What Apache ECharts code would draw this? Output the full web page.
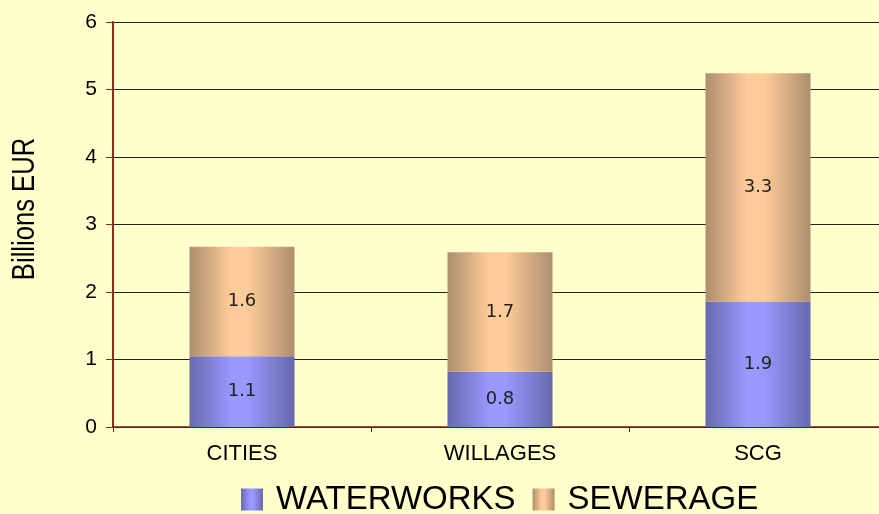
<!DOCTYPE html>
<html>
<head>
<meta charset="utf-8">
<script src="https://cdn.jsdelivr.net/npm/echarts@6/dist/echarts.min.js"></script>
<style>
  html, body { margin: 0; padding: 0; background: #FFFFCC; overflow: hidden; }
  #main { width: 888px; height: 514px; }
</style>
</head>
<body>
<div id="main"></div>
<script>
let categories = ['CITIES', 'WILLAGES', 'SCG'];
let waterworks = [1.05, 0.82, 1.86];
let sewerage = [1.62, 1.77, 3.38];
let waterworksLabels = ['1.1', '0.8', '1.9'];
let sewerageLabels = ['1.6', '1.7', '3.3'];
let yTicks = [0, 1, 2, 3, 4, 5, 6];
let yTitle = 'Billions EUR';

function barGradient(edge, light) {
    return new echarts.graphic.LinearGradient(0, 0, 1, 0, [
        { offset: 0, color: edge },
        { offset: 0.4, color: light },
        { offset: 0.55, color: light },
        { offset: 1, color: edge }
    ]);
}

const blue = barGradient('#6868AE', '#9999FF');
const tan = barGradient('#AD8E6E', '#FFCC99');

const labelStyle = {
    show: true,
    position: 'inside',
    color: '#222',
    fontFamily: 'DejaVu Sans',
    fontSize: 18
};

const option = {
    backgroundColor: '#FFFFCC',
    animation: false,
    grid: {
        left: 113,
        right: 1,
        top: 22,
        bottom: 87
    },
    graphic: [{
        type: 'text',
        x: 25,
        y: 209,
        rotation: Math.PI / 2,
        scaleX: 0.8,
        style: {
            text: yTitle,
            font: '32px "Liberation Sans"',
            fill: '#000',
            align: 'center',
            verticalAlign: 'middle'
        }
    }],
    legend: {
        bottom: -7,
        left: 236,
        icon: 'rect',
        itemWidth: 22,
        itemHeight: 22,
        itemGap: 17,
        textStyle: {
            fontFamily: 'Liberation Sans',
            fontSize: 33,
            color: '#000',
            padding: [0, 0, 0, 8]
        },
        data: [
            { name: 'WATERWORKS', itemStyle: { color: blue } },
            { name: 'SEWERAGE', itemStyle: { color: tan } }
        ]
    },
    xAxis: {
        type: 'category',
        data: categories,
        axisLine: { lineStyle: { color: '#7F1A0E', width: 1.5 } },
        axisTick: { show: true, length: 5, lineStyle: { color: '#7F1A0E' } },
        axisLabel: {
            color: '#000',
            fontFamily: 'Liberation Sans',
            fontSize: 22,
            margin: 16
        }
    },
    yAxis: {
        type: 'value',
        min: yTicks[0],
        max: yTicks[yTicks.length - 1],
        interval: 1,
        axisLine: { show: true, lineStyle: { color: '#8B2A1E', width: 2 } },
        axisTick: { show: true, length: 7, lineStyle: { color: '#8B2A1E' } },
        axisLabel: {
            color: '#000',
            fontFamily: 'Liberation Sans',
            fontSize: 21,
            margin: 16
        },
        splitLine: { lineStyle: { color: '#222', width: 1.2 } }
    },
    series: [
        {
            name: 'WATERWORKS',
            type: 'bar',
            stack: 'total',
            barWidth: 105,
            data: waterworks,
            itemStyle: { color: blue },
            label: Object.assign({}, labelStyle, {
                formatter: p => waterworksLabels[p.dataIndex]
            })
        },
        {
            name: 'SEWERAGE',
            type: 'bar',
            stack: 'total',
            barWidth: 105,
            data: sewerage,
            itemStyle: { color: tan },
            label: Object.assign({}, labelStyle, {
                formatter: p => sewerageLabels[p.dataIndex]
            })
        }
    ]
};

let plot = echarts.init(document.querySelector('#main'));
plot.setOption(option);
</script>
</body>
</html>
